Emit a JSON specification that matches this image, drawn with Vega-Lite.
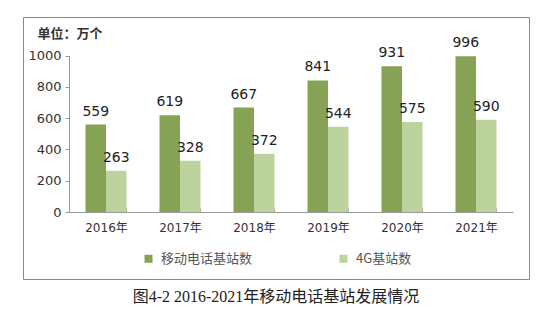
{
  "$schema": "https://vega.github.io/schema/vega-lite/v6.json",
  "width": 506,
  "height": 262,
  "autosize": {"type": "none"},
  "padding": {"left": 23, "top": 17, "right": 28, "bottom": 54},
  "background": "white",
  "title": {
    "text": "图4-2  2016-2021年移动电话基站发展情况",
    "orient": "bottom",
    "anchor": "middle",
    "frame": "group",
    "font": "Liberation Serif, Noto Sans CJK SC",
    "fontSize": 16,
    "fontWeight": "normal",
    "color": "#222",
    "offset": 10
  },
  "data": {
    "values": [
      {"year": "2016年", "series": "移动电话基站数", "value": 559},
      {"year": "2016年", "series": "4G基站数", "value": 263},
      {"year": "2017年", "series": "移动电话基站数", "value": 619},
      {"year": "2017年", "series": "4G基站数", "value": 328},
      {"year": "2018年", "series": "移动电话基站数", "value": 667},
      {"year": "2018年", "series": "4G基站数", "value": 372},
      {"year": "2019年", "series": "移动电话基站数", "value": 841},
      {"year": "2019年", "series": "4G基站数", "value": 544},
      {"year": "2020年", "series": "移动电话基站数", "value": 931},
      {"year": "2020年", "series": "4G基站数", "value": 575},
      {"year": "2021年", "series": "移动电话基站数", "value": 996},
      {"year": "2021年", "series": "4G基站数", "value": 590}
    ]
  },
  "encoding": {
    "x": {
      "field": "year",
      "type": "nominal",
      "scale": {"range": [46, 490], "paddingInner": 0.446, "paddingOuter": 0.223},
      "axis": {
        "title": null,
        "offset": -67,
        "labelAngle": 0,
        "tickBand": "extent",
        "tickSize": -4,
        "labelPadding": 14,
        "domainColor": "#999",
        "tickColor": "#999",
        "labelColor": "#333",
        "labelFont": "DejaVu Sans, Noto Sans CJK SC",
        "labelFontSize": 12
      }
    },
    "xOffset": {
      "field": "series",
      "type": "nominal",
      "sort": ["移动电话基站数", "4G基站数"],
      "scale": {"paddingInner": 0, "paddingOuter": 0}
    },
    "y": {
      "field": "value",
      "type": "quantitative",
      "scale": {"domain": [0, 1000], "range": [195, 38.5], "nice": false, "zero": true},
      "axis": {
        "values": [0, 200, 400, 600, 800, 1000],
        "format": "d",
        "offset": -46,
        "grid": false,
        "tickSize": 4,
        "labelPadding": 4,
        "domainColor": "#999",
        "tickColor": "#999",
        "labelColor": "#333",
        "labelFont": "DejaVu Sans",
        "labelFontSize": 13,
        "title": "单位：万个",
        "titleAngle": 0,
        "titleAlign": "left",
        "titleBaseline": "middle",
        "titleX": -32,
        "titleY": 16,
        "titleFont": "Noto Sans CJK SC",
        "titleFontSize": 13,
        "titleFontWeight": "bold",
        "titleColor": "#333"
      }
    }
  },
  "layer": [
    {
      "mark": {"type": "bar"},
      "encoding": {
        "color": {
          "field": "series",
          "type": "nominal",
          "sort": ["移动电话基站数", "4G基站数"],
          "scale": {"domain": ["移动电话基站数", "4G基站数"], "range": ["#86A254", "#BCD39E"]},
          "legend": {
            "title": null,
            "orient": "none",
            "direction": "horizontal",
            "legendX": 119,
            "legendY": 235,
            "symbolType": "square",
            "symbolSize": 64,
            "symbolStrokeWidth": 0,
            "labelFont": "Noto Sans CJK SC",
            "labelFontSize": 13,
            "labelColor": "#555",
            "labelOffset": 6,
            "columnPadding": 84
          }
        }
      }
    },
    {
      "mark": {"type": "text", "baseline": "bottom", "dy": -6, "font": "DejaVu Sans", "fontSize": 14, "color": "#222"},
      "encoding": {"text": {"field": "value", "type": "quantitative"}}
    }
  ],
  "config": {
    "view": {"stroke": "#888", "strokeWidth": 1}
  }
}
